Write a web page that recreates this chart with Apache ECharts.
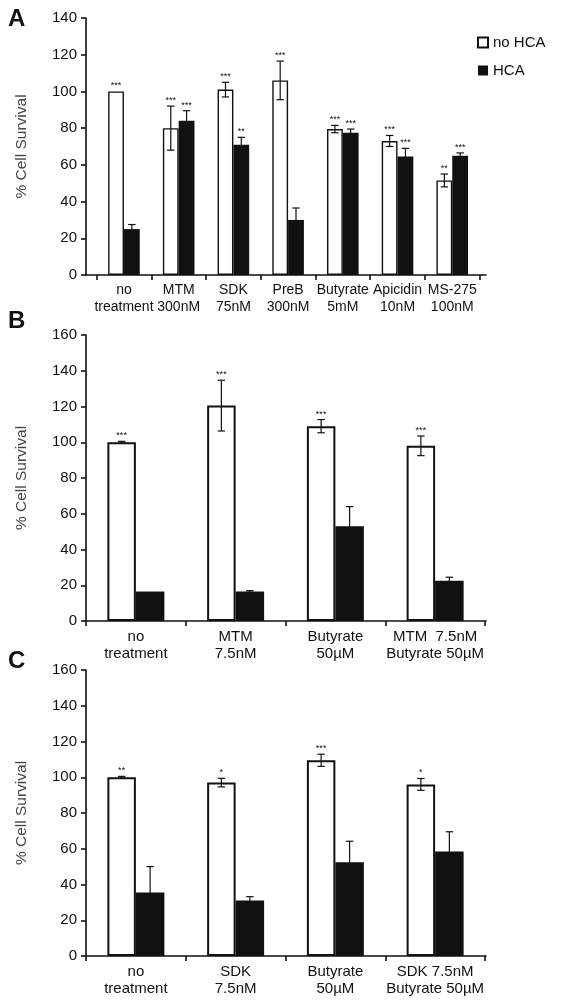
<!DOCTYPE html>
<html lang='en'>
<head>
  <meta charset='UTF-8'>
  <title>Cell Survival</title>
  <script src="https://cdn.jsdelivr.net/npm/echarts@6/dist/echarts.min.js"></script>
  <style>
    html, body { margin: 0; padding: 0; background: #fff; }
  </style>
</head>
<body>
<div id="main" style="width: 561px; height: 1000px;"></div>
<script>
  // panel A
  const catsA = ['no\ntreatment', 'MTM\n300nM', 'SDK\n75nM', 'PreB\n300nM', 'Butyrate\n5mM', 'Apicidin\n10nM', 'MS-275\n100nM']
  const noHcaA = [100, 80, 101, 106, 79.5, 73, 51.5]
  const noHcaErrA = [0, 12, 4, 10.5, 2, 3, 3.5]
  const hcaA = [25, 84, 71, 30, 77.5, 64.5, 65]
  const hcaErrA = [2.5, 5.5, 4, 6.5, 2, 4.5, 1.5]
  const noHcaStarsA = ['***', '***', '***', '***', '***', '***', '**']
  const hcaStarsA = ['', '***', '**', '', '***', '***', '***']

  // panel B
  const catsB = ['no\ntreatment', 'MTM\n7.5nM', 'Butyrate\n50µM', 'MTM  7.5nM\nButyrate 50µM']
  const noHcaB = [100, 120.5, 109, 98]
  const noHcaErrB = [0.5, 14.2, 3.7, 5.5]
  const hcaB = [16.5, 16.5, 53, 22.5]
  const hcaErrB = [0, 0.5, 11, 2]
  const noHcaStarsB = ['***', '***', '***', '***']
  const hcaStarsB = ['', '', '', '']

  // panel C
  const catsC = ['no\ntreatment', 'SDK\n7.5nM', 'Butyrate\n50µM', 'SDK 7.5nM\nButyrate 50µM']
  const noHcaC = [100, 97, 109.5, 96]
  const noHcaErrC = [0.5, 2.4, 3.4, 3.3]
  const hcaC = [35.5, 31, 52.5, 58.5]
  const hcaErrC = [14.5, 2.2, 11.7, 11]
  const noHcaStarsC = ['**', '*', '***', '*']
  const hcaStarsC = ['', '', '', '']

  const yMaxes = [140, 160, 160]
  const panelLetters = ['A', 'B', 'C']

  const font = 'Liberation Sans, Arial, sans-serif'
  const ink = '#111'

  const panels = [
    {cats: catsA, w: noHcaA, we: noHcaErrA, b: hcaA, be: hcaErrA, ws: noHcaStarsA, bs: hcaStarsA,
      top: 18, height: 257, inLeft: 96.6, inWidth: 383, bw: 15.8, border: 1.4, lab: 14},
    {cats: catsB, w: noHcaB, we: noHcaErrB, b: hcaB, be: hcaErrB, ws: noHcaStarsB, bs: hcaStarsB,
      top: 335, height: 286, inLeft: 86, inWidth: 399, bw: 28.5, border: 2, lab: 15},
    {cats: catsC, w: noHcaC, we: noHcaErrC, b: hcaC, be: hcaErrC, ws: noHcaStarsC, bs: hcaStarsC,
      top: 670, height: 286, inLeft: 86, inWidth: 399, bw: 28.5, border: 2, lab: 15}
  ]

  const grid = [], xAxis = [], yAxis = [], series = []

  panels.forEach((p, i) => {
    const outer = 2 * i, inner = 2 * i + 1
    grid.push({left: 86, top: p.top, width: 400, height: p.height})
    grid.push({left: p.inLeft, top: p.top, width: p.inWidth, height: p.height})

    xAxis.push({
      gridIndex: outer, type: 'value', min: 0, max: 1,
      axisLine: {show: true, lineStyle: {color: ink, width: 1.6}},
      axisTick: {show: false}, axisLabel: {show: false}, splitLine: {show: false}
    })
    xAxis.push({
      gridIndex: inner, type: 'category', data: p.cats,
      axisLine: {show: false},
      axisTick: {show: true, length: 5, lineStyle: {color: ink, width: 1.6}},
      axisLabel: {interval: 0, color: ink, fontSize: p.lab, lineHeight: 17, margin: 7, fontFamily: font}
    })
    yAxis.push({
      gridIndex: outer, type: 'value', min: 0, max: yMaxes[i], interval: 20,
      name: '% Cell Survival', nameLocation: 'middle', nameGap: 56,
      nameTextStyle: {color: '#444', fontSize: 15.5, fontFamily: font},
      axisLine: {show: true, lineStyle: {color: ink, width: 1.6}},
      axisTick: {show: true, length: 5, lineStyle: {color: ink, width: 1.6}},
      axisLabel: {color: ink, fontSize: 15, margin: 9, fontFamily: font},
      splitLine: {show: false}
    })
    yAxis.push({
      gridIndex: inner, type: 'value', min: 0, max: yMaxes[i], show: false
    })

    series.push({
      name: 'no HCA', type: 'bar', xAxisIndex: inner, yAxisIndex: inner,
      data: p.w, barWidth: p.bw, barGap: '0%',
      itemStyle: {color: '#fff', borderColor: ink, borderWidth: p.border}
    })
    series.push({
      name: 'HCA', type: 'bar', xAxisIndex: inner, yAxisIndex: inner,
      data: p.b, barWidth: p.bw, barGap: '0%',
      itemStyle: {color: ink}
    })

    const errData = [], stars = []
    p.cats.forEach((c, k) => {
      errData.push([k, p.w[k], p.we[k], 0]); stars.push(p.ws[k])
      errData.push([k, p.b[k], p.be[k], 1]); stars.push(p.bs[k])
    })
    series.push({
      type: 'custom', xAxisIndex: inner, yAxisIndex: inner, z: 10,
      data: errData,
      renderItem: function (params, api) {
        const cat = api.value(0), v = api.value(1), e = api.value(2), g = api.value(3)
        const x = api.coord([cat, v])[0] + (g === 0 ? -p.bw / 2 : p.bw / 2)
        const yT = api.coord([cat, v + e])[1]
        const yB = api.coord([cat, v - e])[1]
        const st = {stroke: ink, lineWidth: 1.2}
        const kids = []
        if (e > 0) {
          kids.push({type: 'line', shape: {x1: x, y1: yT, x2: x, y2: yB}, style: st})
          kids.push({type: 'line', shape: {x1: x - 3.7, y1: yT, x2: x + 3.7, y2: yT}, style: st})
          kids.push({type: 'line', shape: {x1: x - 3.7, y1: yB, x2: x + 3.7, y2: yB}, style: st})
        }
        const s = stars[params.dataIndex]
        if (s) {
          kids.push({type: 'text', style: {
            text: s, x: x, y: yT - 1, align: 'center', verticalAlign: 'bottom',
            fontSize: 9, fontFamily: font, fill: ink
          }})
        }
        return {type: 'group', children: kids}
      }
    })
  })

  const myChart = echarts.init(document.getElementById('main'))
  myChart.setOption({
    animation: false,
    backgroundColor: '#fff',
    title: panelLetters.map((t, i) => ({
      text: t, left: 3, top: [2, 304, 644][i],
      textStyle: {fontSize: 24, fontWeight: 'bold', color: ink, fontFamily: font}
    })),
    legend: {
      data: ['no HCA', 'HCA'], orient: 'vertical', left: 472, top: 30,
      icon: 'rect', itemWidth: 10, itemHeight: 10, itemGap: 13,
      textStyle: {fontSize: 15, color: ink, fontFamily: font}
    },
    grid, xAxis, yAxis, series
  })
</script>
</body>
</html>
